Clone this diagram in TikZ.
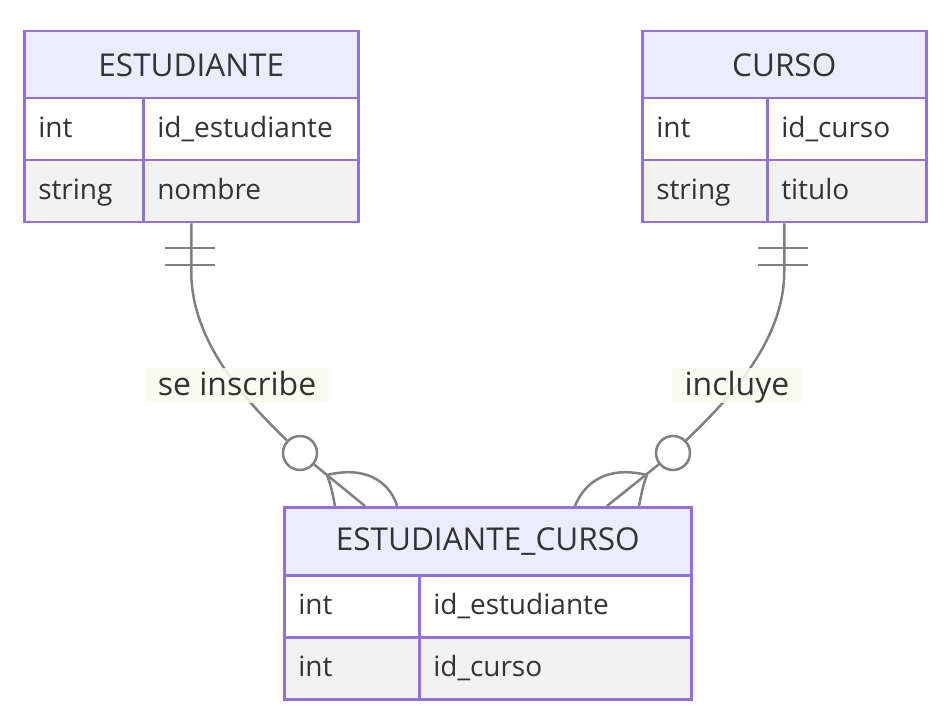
\documentclass[tikz,border=0pt]{standalone}
\usepackage{fontspec}
\setmainfont{Open Sans}
\usepackage{tikz}
\definecolor{erborder}{HTML}{9370DB}
\definecolor{erhead}{HTML}{ECECFF}
\definecolor{erodd}{HTML}{FFFFFF}
\definecolor{ereven}{HTML}{F2F2F2}
\definecolor{ertext}{HTML}{333333}
\definecolor{erline}{HTML}{808080}
\definecolor{erlabel}{RGB}{249,252,238}
\tikzset{
  entityhead/.style={draw=erborder,fill=erhead,line width=2.5pt,anchor=north west,
    minimum height=68pt,inner sep=0pt,text=ertext,font=\fontsize{31.5}{36}\selectfont},
  attrcell/.style={draw=erborder,line width=2.5pt,anchor=north west,minimum height=62pt,
    inner xsep=14pt,inner ysep=0pt,align=left,text height=22pt,text depth=6pt,
    text=ertext,font=\fontsize{28}{32}\selectfont},
  relline/.style={draw=erline,line width=2.5pt},
  rellabel/.style={fill=erlabel,fill opacity=0.85,text opacity=1,text=ertext,
    inner xsep=13pt,inner ysep=0pt,minimum height=35pt,text height=24pt,text depth=3pt,
    font=\fontsize{32}{36}\selectfont},
  zerocircle/.style={circle,draw=erline,fill=white,line width=2.5pt,minimum size=34pt,inner sep=0pt}
}
\begin{document}
\begin{tikzpicture}[x=1pt,y=-1pt]
    \useasboundingbox (0,0) rectangle (948,719);
    % ESTUDIANTE
    \node[entityhead,minimum width=334pt] (est) at (23,30) {ESTUDIANTE};
    \node[attrcell,fill=erodd,text width=91pt] (est-t1) at (23,97) {int};
    \node[attrcell,fill=erodd,text width=187pt] (est-n1) at (142,97) {id\_estudiante};
    \node[attrcell,fill=ereven,text width=91pt] (est-t2) at (23,159) {string};
    \node[attrcell,fill=ereven,text width=187pt] (est-n2) at (142,159) {nombre};
    % CURSO
    \node[entityhead,minimum width=284pt] (cur) at (641,30) {CURSO};
    \node[attrcell,fill=erodd,text width=97pt] (cur-t1) at (641,97) {int};
    \node[attrcell,fill=erodd,text width=131pt] (cur-n1) at (766,97) {id\_curso};
    \node[attrcell,fill=ereven,text width=97pt] (cur-t2) at (641,159) {string};
    \node[attrcell,fill=ereven,text width=131pt] (cur-n2) at (766,159) {titulo};
    % ESTUDIANTE_CURSO
    \node[entityhead,minimum width=407pt] (ec) at (283,506) {ESTUDIANTE\_CURSO};
    \node[attrcell,fill=erodd,text width=107pt] (ec-t1) at (283,574) {int};
    \node[attrcell,fill=erodd,text width=244pt] (ec-n1) at (418,574) {id\_estudiante};
    \node[attrcell,fill=ereven,text width=107pt] (ec-t2) at (283,636) {int};
    \node[attrcell,fill=ereven,text width=244pt] (ec-n2) at (418,636) {id\_curso};
    % end points
    \coordinate (est-out) at (est.center |- est-n2.south);
    \coordinate (cur-out) at (cur.center |- cur-n2.south);
    \coordinate (ec-in1) at (365,506);
    \coordinate (ec-in2) at (607,506);
    \coordinate (foot1) at (327,475);
    \coordinate (foot2) at (647,475);
    \node[zerocircle] (zc1) at (300,453) {};
    \node[zerocircle] (zc2) at (673,453) {};
    % se inscribe
    \draw[relline] (est-out) -- ++(0,48) .. controls +(0,70) and (245,400) .. (zc1);
    \draw[relline] (zc1) -- (ec-in1);
    \draw[relline] (165,248) -- (215,248) (165,265) -- (215,265);
    \draw[relline] (foot1) .. controls (331,486) .. (335,506);
    \draw[relline] (foot1) .. controls (372,464) and (392,488) .. (397,506);
    % incluye
    \draw[relline] (cur-out) -- ++(0,48) .. controls +(0,70) and (728,400) .. (zc2);
    \draw[relline] (zc2) -- (ec-in2);
    \draw[relline] (758,248) -- (808,248) (758,265) -- (808,265);
    \draw[relline] (foot2) .. controls (643,486) .. (639,506);
    \draw[relline] (foot2) .. controls (602,464) and (582,488) .. (575,506);
    \node[rellabel] (lab1) at (237,385) {se inscribe};
    \node[rellabel] (lab2) at (737,385) {incluye};
\end{tikzpicture}
\end{document}
